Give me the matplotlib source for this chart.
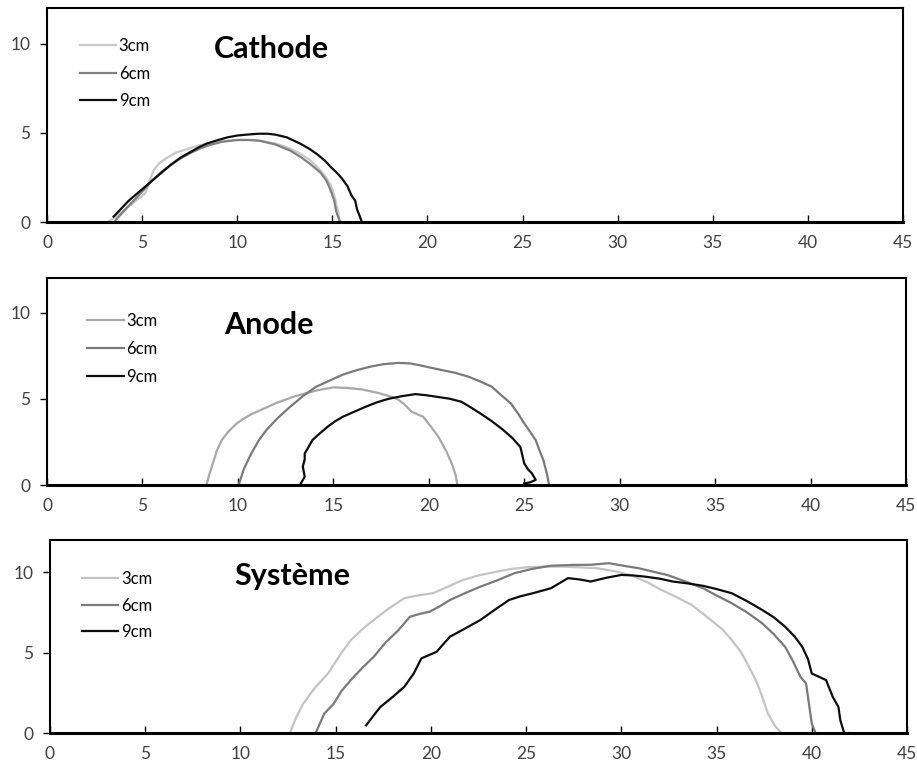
import numpy as np
import matplotlib
matplotlib.use("Agg")
import matplotlib.pyplot as plt

plt.rcParams['font.family'] = ['Lato', 'DejaVu Sans']

# Cathode
cat_3_x = [3.2, 3.6, 4.2, 4.8, 5.15, 5.4, 5.6, 5.9, 6.3, 6.8, 7.4, 8.0, 9.0, 10.0, 11.0, 12.0, 12.6, 13.2, 13.8, 14.2, 14.6, 14.9, 15.1, 15.25, 15.35, 15.4]
cat_3_y = [0, 0.3, 0.8, 1.3, 1.6, 2.3, 2.9, 3.3, 3.6, 3.9, 4.1, 4.3, 4.5, 4.6, 4.6, 4.4, 4.2, 3.9, 3.5, 3.1, 2.6, 2.1, 1.5, 0.8, 0.3, 0]
cat_6_x = [3.6, 4.2, 5.0, 5.5, 6.0, 6.5, 7.0, 7.5, 8.0, 8.5, 9.2, 10.0, 10.6, 11.2, 12.0, 12.8, 13.4, 13.9, 14.4, 14.7, 14.9, 15.1, 15.2, 15.35, 15.4]
cat_6_y = [0.1, 0.8, 1.7, 2.3, 2.8, 3.2, 3.55, 3.85, 4.1, 4.3, 4.5, 4.6, 4.6, 4.55, 4.35, 4.0, 3.6, 3.2, 2.75, 2.3, 1.8, 1.2, 0.6, 0.15, 0]
cat_9_x = [3.5, 4.3, 5.4, 6.0, 6.5, 7.0, 7.5, 8.0, 8.4, 9.0, 9.5, 10.0, 10.5, 11.1, 11.6, 12.0, 12.6, 13.3, 13.8, 14.2, 14.6, 14.9, 15.2, 15.5, 15.8, 16.0, 16.2, 16.3, 16.45, 16.55]
cat_9_y = [0.3, 1.2, 2.2, 2.75, 3.2, 3.6, 3.9, 4.2, 4.4, 4.6, 4.75, 4.85, 4.9, 4.95, 4.95, 4.9, 4.75, 4.4, 4.1, 3.8, 3.45, 3.1, 2.8, 2.45, 2.0, 1.5, 1.2, 0.7, 0.3, 0]

# Anode
ano_3_x = [8.35, 8.5, 8.7, 8.9, 9.15, 9.5, 9.94, 10.3, 10.7, 11.1, 11.5, 12.0, 12.5, 13.0, 13.5, 14.2, 15.0, 15.8, 16.5, 17.3, 18.1, 18.4, 18.7, 19.1, 19.4, 19.7, 20.1, 20.5, 20.9, 21.2, 21.4, 21.5]
ano_3_y = [0, 0.6, 1.3, 2.0, 2.6, 3.1, 3.57, 3.85, 4.1, 4.3, 4.5, 4.75, 4.95, 5.15, 5.3, 5.5, 5.66, 5.62, 5.54, 5.35, 5.1, 4.95, 4.7, 4.25, 4.1, 3.96, 3.4, 2.8, 2.0, 1.25, 0.6, 0]
ano_6_x = [10.04, 10.3, 10.7, 11.1, 11.5, 12.1, 12.7, 13.4, 14.1, 14.8, 15.5, 16.2, 16.9, 17.6, 18.4, 19.0, 19.5, 20.1, 20.7, 21.4, 22.1, 22.7, 23.3, 23.8, 24.3, 24.7, 25.0, 25.3, 25.6, 25.8, 26.0, 26.2, 26.3]
ano_6_y = [0, 0.9, 1.83, 2.6, 3.2, 3.9, 4.5, 5.15, 5.7, 6.05, 6.4, 6.65, 6.85, 7.0, 7.08, 7.05, 6.95, 6.8, 6.66, 6.5, 6.27, 6.0, 5.7, 5.2, 4.73, 4.1, 3.57, 3.1, 2.6, 2.0, 1.45, 0.6, 0]
ano_9_x = [13.3, 13.5, 13.4, 13.5, 13.5, 13.7, 13.9, 14.3, 14.7, 15.1, 15.5, 16.1, 16.7, 17.3, 17.9, 18.6, 19.3, 19.9, 20.5, 21.1, 21.7, 22.2, 22.7, 23.3, 23.9, 24.4, 24.8, 25.0, 25.2, 25.4, 25.6, 25.3, 25.0]
ano_9_y = [0.1, 0.48, 1.06, 1.5, 1.83, 2.2, 2.6, 3.0, 3.38, 3.7, 3.96, 4.25, 4.54, 4.8, 5.0, 5.15, 5.27, 5.2, 5.1, 5.0, 4.83, 4.5, 4.15, 3.7, 3.19, 2.7, 2.2, 1.25, 0.9, 0.68, 0.3, 0.15, 0.1]

# Systeme
sys_3_x = [12.6, 12.9, 13.3, 13.9, 14.6, 15.2, 15.8, 16.4, 17.0, 17.8, 18.6, 19.3, 20.1, 20.9, 21.65, 22.5, 23.5, 24.2, 25.0, 26.0, 26.9, 27.8, 28.7, 29.7, 30.6, 31.4, 32.1, 32.9, 33.7, 34.2, 34.7, 35.3, 35.8, 36.3, 36.7, 37.1, 37.4, 37.7, 38.1, 38.4]
sys_3_y = [0, 0.9, 1.83, 2.8, 3.7, 4.8, 5.78, 6.45, 7.03, 7.75, 8.38, 8.55, 8.69, 9.1, 9.5, 9.8, 10.04, 10.2, 10.3, 10.35, 10.35, 10.3, 10.25, 10.05, 9.77, 9.35, 8.9, 8.45, 7.96, 7.5, 7.03, 6.45, 5.78, 5.0, 4.12, 3.2, 2.25, 1.2, 0.4, 0]
sys_6_x = [13.95, 14.4, 14.9, 15.3, 15.8, 16.4, 17.0, 17.6, 18.3, 18.9, 19.4, 19.95, 20.5, 21.0, 21.8, 22.6, 23.5, 24.4, 25.3, 26.3, 27.4, 28.4, 29.35, 30.1, 30.9, 31.6, 32.4, 33.3, 34.3, 35.0, 35.8, 36.6, 37.4, 38.0, 38.6, 39.0, 39.4, 39.7, 39.8, 40.0, 40.2]
sys_6_y = [0, 1.2, 1.83, 2.6, 3.3, 4.05, 4.74, 5.6, 6.4, 7.23, 7.4, 7.55, 7.9, 8.27, 8.7, 9.1, 9.5, 9.94, 10.2, 10.4, 10.45, 10.46, 10.56, 10.4, 10.25, 10.05, 9.83, 9.45, 9.0, 8.55, 8.07, 7.5, 6.82, 6.15, 5.36, 4.5, 3.5, 3.08, 2.25, 0.58, 0]
sys_9_x = [16.6, 17.0, 17.35, 18.0, 18.6, 19.1, 19.5, 20.3, 21.0, 21.8, 22.6, 23.4, 24.1, 24.7, 25.35, 26.3, 26.8, 27.2, 27.8, 28.4, 29.2, 30.0, 30.6, 31.2, 32.0, 32.7, 33.5, 34.3, 35.0, 35.8, 36.6, 37.4, 38.0, 38.6, 39.1, 39.5, 39.8, 40.0, 40.75, 41.1, 41.4, 41.5, 41.7, 42.0]
sys_9_y = [0.48, 1.1, 1.62, 2.25, 2.87, 3.7, 4.64, 5.05, 5.99, 6.5, 7.03, 7.7, 8.27, 8.5, 8.69, 9.0, 9.35, 9.63, 9.55, 9.42, 9.65, 9.83, 9.8, 9.73, 9.6, 9.42, 9.3, 9.15, 8.95, 8.69, 8.2, 7.65, 7.2, 6.61, 6.0, 5.36, 4.6, 3.7, 3.29, 2.25, 1.62, 0.79, 0, 0]

labels = ["3cm", "6cm", "9cm"]

panels = [
    ("Cathode", [(cat_3_x, cat_3_y), (cat_6_x, cat_6_y), (cat_9_x, cat_9_y)],
     ["#c8c8c8", "#808080", "#0d0d0d"], [0.0513, 0.7098, 0.9334, 0.2797],
     (11.8, 9.7), (0.038, 0.86), 0.7),
    ("Anode", [(ano_3_x, ano_3_y), (ano_6_x, ano_6_y), (ano_9_x, ano_9_y)],
     ["#a8a8a8", "#7a7a7a", "#0d0d0d"], [0.0513, 0.3660, 0.9367, 0.2706],
     (11.6, 9.25), (0.047, 0.83), 0.7),
    ("Système", [(sys_3_x, sys_3_y), (sys_6_x, sys_6_y), (sys_9_x, sys_9_y)],
     ["#c4c4c4", "#7a7a7a", "#0d0d0d"], [0.0545, 0.0418, 0.9346, 0.2523],
     (12.7, 9.75), (0.037, 0.84), 0.64),
]

fig = plt.figure(figsize=(9.17, 7.65), dpi=100)

for title, series, colors, rect, tpos, lpos, lsp in panels:
    ax = fig.add_axes(rect)
    for (x, y), c, lab in zip(series, colors, labels):
        ax.plot(x, y, color=c, lw=1.6, label=lab)
    ax.set_xlim(0, 45)
    ax.set_ylim(0, 12)
    ax.set_xticks(np.arange(0, 46, 5))
    ax.set_yticks([0, 5, 10])
    for s in ax.spines.values():
        s.set_linewidth(1.5)
        s.set_color("black")
    ax.spines['bottom'].set_linewidth(2.2)
    ax.tick_params(axis='x', direction='in', length=5, width=1, colors='black',
                   labelcolor='#404040', labelsize=12.5, pad=9)
    ax.tick_params(axis='y', direction='out', length=5, width=1, colors='black',
                   labelcolor='#404040', labelsize=12.5, pad=7)
    ax.text(tpos[0], tpos[1], title, ha='center', va='center',
            fontsize=22, fontweight='bold', color='black')
    ax.legend(loc='upper left', bbox_to_anchor=lpos, frameon=False,
              fontsize=12, handlelength=2.2, handletextpad=0.15, labelspacing=lsp,
              borderaxespad=0, borderpad=0)

fig.savefig("out.png", dpi=100)
